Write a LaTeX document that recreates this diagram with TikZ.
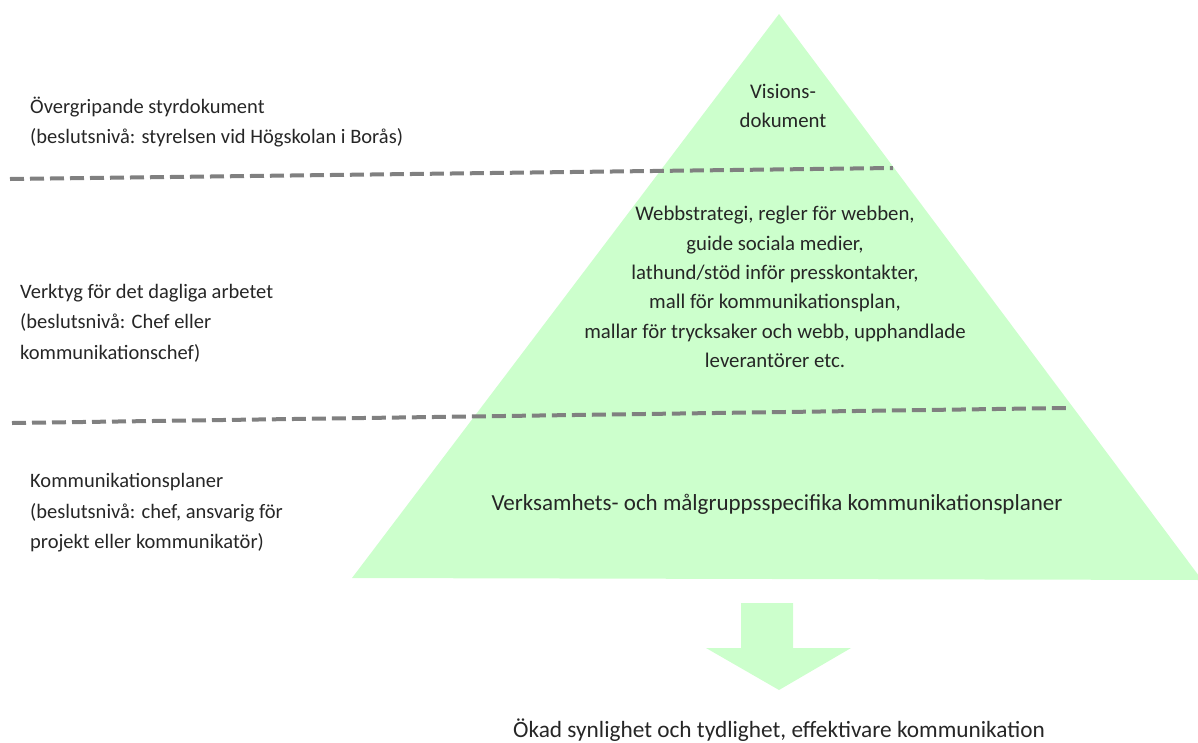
\documentclass[tikz,border=0pt]{standalone}
\usepackage{fontspec}
\setmainfont{Carlito}
\definecolor{pyr}{RGB}{204,255,204}
\definecolor{dashgray}{RGB}{128,128,128}
\definecolor{txt}{RGB}{38,38,38}
\begin{document}
\begin{tikzpicture}[x=1pt,y=-1pt,
  sep/.style={draw=dashgray,line width=4pt,dash pattern=on 14pt off 6pt},
  lbl/.style={inner sep=0pt,text=txt,align=left,anchor=west,font=\fontsize{20.5}{30.5}\selectfont},
  ctr/.style={inner sep=0pt,text=txt,align=center,font=\fontsize{20.8}{29.3}\selectfont}]
\useasboundingbox (0,0) rectangle (1198,742);
% pyramid
\fill[pyr] (779,14) -- (1202,580) -- (352,578) -- cycle;
% arrow
\fill[pyr] (741,603) -- (793,603) -- (793,648) -- (851,648) -- (779,690) -- (706,648) -- (741,648) -- cycle;
% separators
\coordinate (s1a) at (10,179); \coordinate (s1b) at (893,168);
\coordinate (s2a) at (12,423); \coordinate (s2b) at (1066,408);
\draw[sep] (s1a) -- (s1b);
\draw[sep] (s2a) -- (s2b);
% left labels
\node[lbl] (l1) at (30,122) {Övergripande styrdokument\\(beslutsnivå: styrelsen vid Högskolan i Borås)};
\node[lbl] (l2) at (20,323) {Verktyg för det dagliga arbetet\\(beslutsnivå: Chef eller\\kommunikationschef)};
\node[lbl] (l3) at (30,513) {Kommunikationsplaner\\(beslutsnivå: chef, ansvarig för\\projekt eller kommunikatör)};
% pyramid texts
\node[ctr] (p1) at (783,106) {Visions-\\dokument};
\node[ctr] (p2) at (775,287) {Webbstrategi, regler för webben,\\guide sociala medier,\\lathund/stöd inför presskontakter,\\mall för kommunikationsplan,\\mallar för trycksaker och webb, upphandlade\\leverantörer etc.};
\node[ctr,font=\fontsize{23}{26}\selectfont] (p3) at (777,504) {Verksamhets- och målgruppsspecifika kommunikationsplaner};
\node[ctr,font=\fontsize{23.3}{26}\selectfont] (res) at (779,730) {Ökad synlighet och tydlighet, effektivare kommunikation};
\end{tikzpicture}
\end{document}
